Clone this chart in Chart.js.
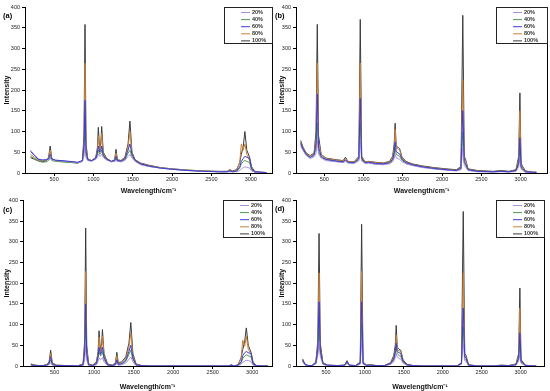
<!DOCTYPE html>
<html><head><meta charset="utf-8">
<script src="https://cdn.jsdelivr.net/npm/chart.js@4"></script>
<style>
html,body{margin:0;padding:0;background:#fff;overflow:hidden;}
.p{position:absolute;}
</style></head><body>
<div class="p" style="left:0;top:0;width:275px;height:195px"><canvas id="ca"></canvas></div>
<div class="p" style="left:275px;top:0;width:275px;height:195px"><canvas id="cb"></canvas></div>
<div class="p" style="left:0;top:195px;width:275px;height:196px"><canvas id="cc"></canvas></div>
<div class="p" style="left:275px;top:195px;width:275px;height:196px"><canvas id="cd"></canvas></div>
<script>
const SERIES = ['20%','40%','60%','80%','100%'];
const COLORS = ['#a890e0','#4f9a4f','#3c3cd0','#c8823c','#3a3a3a'];
const DRAW_ORDER = [1,2,0,3,4];
const X_TICKS = [500,1000,1500,2000,2500,3000];
const Y_TICKS = [0,50,100,150,200,250,300,350,400];

// Panel (a)
const xA = [200,250,300,350,400,430,450,470,520,650,
  800,860,880,893,906,930,980,1030,1050,1062,
  1080,1095,1105,1125,1170,1230,1270,1287,1305,1350,
  1400,1440,1464,1490,1530,1600,1700,1850,2000,2200,
  2400,2600,2700,2733,2770,2820,2860,2880,2905,2925,
  2950,2985,3010,3050,3120,3200];
const a20 = [55,44,34,32,32,33,35,32,30,28, 25,28,40,75,36,30,29,33,38,45, 40,42,45,37,31,27,28,30,28,27, 30,40,45,36,28,20,16,12,9,6, 4,3,3,3,3,3,6,10,13,15, 14,12,5,2,1,1];
const a40 = [40,35,29,26,27,30,38,30,28,26, 24,28,50,120,42,30,29,34,43,55, 45,48,55,40,32,27,29,35,29,28, 32,48,55,40,29,21,16,12,9,6, 4,3,3,4,3,4,12,22,28,30, 28,25,8,2,1,1];
const a60 = [52,42,33,31,32,34,45,34,31,29, 26,30,65,175,50,32,30,36,48,65, 50,55,65,43,33,28,30,40,30,29, 34,55,70,45,30,22,17,12,9,6, 4,3,3,5,3,5,15,28,35,40, 38,35,10,3,2,1];
const a80 = [45,38,31,29,31,36,55,35,30,28, 25,30,75,265,60,32,30,37,55,90, 52,68,95,47,34,28,31,48,31,30, 36,62,100,48,31,23,18,13,10,7, 5,3,3,7,4,7,25,70,55,70, 45,30,12,3,2,1];
const a100 = [37,33,29,27,29,38,65,35,29,27, 24,30,90,358,70,32,30,38,60,110, 55,75,112,50,35,28,32,57,32,30, 38,70,125,50,32,24,19,13,10,7, 5,4,4,8,5,8,25,45,65,100, 55,38,15,4,2,1];

// Panel (b)
const xB = [200,230,270,320,370,395,411,427,460,520,
  650,740,770,800,880,940,958,976,1020,1060,
  1150,1250,1330,1370,1390,1402,1415,1440,1460,1490,
  1540,1620,1750,1900,2050,2180,2240,2263,2282,2300,
  2330,2450,2650,2750,2850,2940,2975,2990,3005,3020,
  3060,3150,3200];
const b20 = [65,54,42,35,39,48,80,45,36,30, 27,25,28,24,23,29,80,29,23,24, 21,20,22,27,35,45,37,35,33,27, 22,18,13,10,7,5,8,60,18,14, 6,3,2,3,2,4,14,40,10,7, 2,1,1];
const b40 = [70,57,44,37,42,60,120,52,38,32, 28,26,30,25,24,32,120,32,24,25, 22,21,24,30,42,60,45,42,40,30, 24,19,14,10,8,6,10,100,24,18, 7,4,3,4,3,5,20,60,13,9, 3,1,1];
const b60 = [72,58,45,38,44,70,190,62,40,33, 29,27,32,26,25,35,180,35,25,26, 23,22,25,33,50,75,52,48,46,33, 25,20,15,11,8,6,11,150,28,22, 8,4,3,4,3,6,25,85,16,11, 3,2,1];
const b80 = [74,60,47,41,46,85,265,75,44,35, 31,29,35,28,27,38,265,38,27,28, 25,24,27,37,60,105,60,58,55,36, 27,21,16,12,9,7,13,225,35,28, 9,5,3,5,3,7,32,150,20,14, 4,2,2];
const b100 = [78,62,48,42,48,100,358,90,45,36, 32,30,38,28,27,40,370,40,27,28, 26,24,28,40,70,120,65,62,58,38, 28,22,17,13,10,8,15,380,40,32, 10,6,4,6,4,8,40,193,25,17, 5,2,2];

// Panel (c)
const xC = [200,250,300,350,400,430,450,470,520,650,
  800,860,880,893,906,930,980,1030,1050,1062,
  1080,1095,1105,1125,1170,1230,1270,1287,1305,1350,
  1400,1440,1464,1490,1530,1600,1700,1850,2000,2200,
  2400,2600,2700,2733,2770,2820,2860,2880,2905,2925,
  2950,2985,3010,3050,3120,3200];
const c20 = [1,1,0,0,1,3,8,2,0,0, 0,1,15,60,14,1,0,3,12,20, 15,17,20,10,1,0,2,8,2,3, 7,16,22,10,1,0,0,0,0,0, 0,0,0,0,0,1,4,9,12,14, 13,11,2,0,0,0];
const c40 = [2,1,1,1,2,5,15,4,1,0, 0,2,25,100,22,2,1,5,20,35, 24,28,35,16,2,1,3,12,3,5, 11,28,38,16,2,0,0,0,0,0, 0,0,0,1,0,1,8,18,24,27, 25,22,4,0,0,0];
const c60 = [3,1,1,1,2,6,22,5,1,1, 0,3,35,150,30,3,1,6,25,45, 28,35,45,20,3,1,4,15,4,6, 14,35,50,20,3,1,0,0,0,0, 0,0,0,2,0,2,10,25,32,35, 32,30,6,1,0,0];
const c80 = [4,2,1,1,3,8,30,7,2,1, 1,4,45,228,40,4,2,8,30,70, 30,45,72,25,4,2,6,25,6,8, 18,45,80,25,4,1,0,0,0,0, 0,0,0,2,0,2,20,62,48,72, 40,28,8,1,0,0];
const c100 = [5,2,1,1,3,10,38,8,2,1, 1,5,60,333,50,5,2,10,35,85, 35,55,88,30,5,2,8,33,8,10, 22,55,105,30,5,1,0,0,0,0, 0,0,0,3,0,3,20,40,60,92, 50,33,10,1,0,0];

// Panel (d)
const xD = [200,230,270,320,370,395,411,427,460,520,
  650,740,770,800,880,940,958,976,1020,1060,
  1150,1250,1330,1370,1390,1402,1415,1440,1460,1490,
  1540,1620,1750,1900,2050,2180,2240,2263,2282,2300,
  2330,2450,2650,2750,2850,2940,2975,2990,3005,3020,
  3060,3150,3200];
const d20 = [10,3,1,1,5,25,60,24,4,1, 0,1,6,1,0,4,60,4,1,1, 0,0,4,10,20,30,22,18,17,7, 2,0,0,0,0,0,4,55,13,11, 1,0,0,1,0,2,12,35,7,5, 1,0,0];
const d40 = [12,3,1,1,6,33,100,32,5,1, 1,1,8,1,1,6,100,6,1,2, 1,1,5,14,28,45,30,25,24,9, 2,1,0,0,0,0,5,95,18,15, 2,0,0,1,1,3,16,55,9,7, 1,0,0];
const d60 = [14,4,1,1,7,40,155,38,6,2, 1,2,10,2,1,7,155,7,2,2, 1,1,6,17,35,55,35,32,30,11, 3,1,0,0,0,0,6,140,22,18, 2,0,0,1,1,3,20,80,11,9, 1,0,0];
const d80 = [15,4,1,1,8,50,225,45,7,2, 1,2,11,2,1,8,228,8,2,3, 1,1,7,20,40,75,40,37,35,13, 3,1,0,0,0,0,7,225,26,21, 3,0,0,2,1,4,25,140,13,10, 2,0,0];
const d100 = [17,5,1,1,10,60,320,55,8,2, 1,2,13,2,1,10,342,10,2,3, 1,1,8,25,50,98,45,40,38,15, 4,1,0,0,0,0,8,373,30,25, 3,0,0,2,1,5,30,188,15,12, 2,0,0];

const FONT = '"Liberation Sans", Arial, sans-serif';

const boxLegend = {
  id: 'boxLegend',
  afterDraw(chart, args, o) {
    const ctx = chart.ctx, a = chart.chartArea;
    ctx.save();
    // right frame line
    ctx.strokeStyle = '#000'; ctx.lineWidth = 1;
    ctx.beginPath(); ctx.moveTo(Math.round(a.right) + 0.5, a.top); ctx.lineTo(Math.round(a.right) + 0.5, a.bottom); ctx.stroke();
    // legend box
    const x0 = Math.round(a.right - o.w), y0 = Math.round(a.top);
    ctx.strokeStyle = '#222';
    ctx.strokeRect(x0 + 0.5, y0 + 0.5, o.w, o.h);
    ctx.font = 'bold 5.5px ' + FONT;
    ctx.textBaseline = 'middle';
    chart.data.datasets.forEach((ds, i) => {
      const y = y0 + 5.5 + i * 7.1;
      ctx.strokeStyle = ds.borderColor; ctx.lineWidth = 1;
      ctx.beginPath(); ctx.moveTo(x0 + 17, y); ctx.lineTo(x0 + 26, y); ctx.stroke();
      ctx.fillStyle = '#333';
      ctx.fillText(ds.label, x0 + 28, y);
    });
    // panel label
    ctx.fillStyle = '#000';
    ctx.font = 'bold 7.5px ' + FONT;
    ctx.textBaseline = 'middle';
    ctx.fillText(o.tag, o.tx, o.ty);
    ctx.restore();
  }
};

function makePanel(id, xs, ys, p) {
  const datasets = SERIES.map((lab, i) => ({
    label: lab,
    data: xs.map((x, k) => ({x: x, y: ys[i][k]})),
    borderColor: COLORS[i],
    borderWidth: 1,
    pointRadius: 0,
    tension: 0,
    fill: false,
    order: DRAW_ORDER[i]
  }));
  new Chart(document.getElementById(id), {
    type: 'line',
    data: {datasets},
    options: {
      responsive: true, maintainAspectRatio: false, animation: false, devicePixelRatio: 1,
      layout: {padding: {top: p.top, right: p.right, left: 0, bottom: 0}},
      plugins: {legend: {display: false}, tooltip: {enabled: false},
        boxLegend: {w: p.lw, h: p.lh, tag: p.tag, tx: p.tx, ty: p.ty}},
      scales: {
        x: {
          type: 'linear', min: p.xmin, max: p.xmax,
          afterBuildTicks: s => { s.ticks = X_TICKS.map(v => ({value: v})); },
          afterFit: s => { s.height = p.xh; },
          grid: {drawOnChartArea: false, tickLength: 3, color: '#000', tickColor: '#000'},
          border: {display: true, color: '#000', width: 1},
          ticks: {font: {size: 5.5, family: FONT}, color: '#222', padding: 0, maxRotation: 0, autoSkip: false,
                  callback: v => String(v)},
          title: {display: true, text: 'Wavelength/cm\u207B\u00B9', font: {size: 7, weight: 'bold', family: FONT}, color: '#111', padding: {top: 0, bottom: 0}}
        },
        y: {
          min: 0, max: 400,
          afterBuildTicks: s => { s.ticks = Y_TICKS.map(v => ({value: v})); },
          afterFit: s => { s.width = p.yw; },
          grid: {drawOnChartArea: false, tickLength: 3, color: '#000', tickColor: '#000'},
          border: {display: true, color: '#000', width: 1},
          ticks: {font: {size: 5.5, family: FONT}, color: '#222', padding: 2, callback: v => String(v)},
          title: {display: true, text: 'Intensity', font: {size: 7, weight: 'bold', family: FONT}, color: '#111', padding: {top: 3, bottom: 0}}
        }
      }
    },
    plugins: [boxLegend]
  });
}

makePanel('ca', xA, [a20, a40, a60, a80, a100], {xmin: 130, xmax: 3270, top: 7, right: 3, yw: 25, xh: 22, lw: 48, lh: 36, tag: '(a)', tx: 3, ty: 16});
makePanel('cb', xB, [b20, b40, b60, b80, b100], {xmin: 140, xmax: 3335, top: 7, right: 3, yw: 21, xh: 22, lw: 51, lh: 36, tag: '(b)', tx: 0, ty: 16});
makePanel('cc', xC, [c20, c40, c60, c80, c100], {xmin: 100, xmax: 3250, top: 5, right: 3, yw: 23, xh: 25, lw: 49, lh: 37, tag: '(c)', tx: 3, ty: 15});
makePanel('cd', xD, [d20, d40, d60, d80, d100], {xmin: 115, xmax: 3300, top: 5, right: 6, yw: 21, xh: 25, lw: 48, lh: 37, tag: '(d)', tx: 0, ty: 14});
</script>
</body></html>
